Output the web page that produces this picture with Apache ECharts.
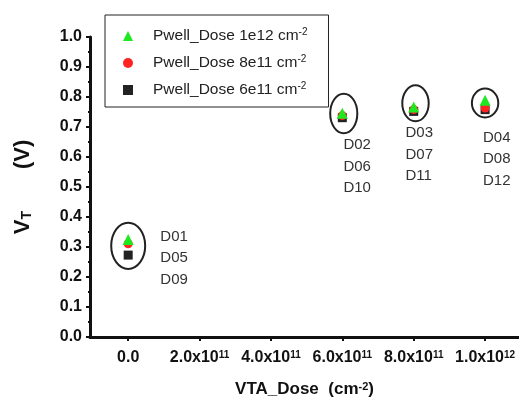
<!DOCTYPE html>
<html>
<head>
<meta charset="utf-8">
<script src="https://cdn.jsdelivr.net/npm/echarts@6/dist/echarts.min.js"></script>
<style>
  html, body { margin: 0; padding: 0; background: #fff; }
  #chart { width: 519px; height: 403px; }
</style>
</head>
<body>
<div id="chart"></div>
<script>
  // VTA dose of each device group (cm^-2)
  const vtaDose = [0, 6e11, 8e11, 1e12];
  const seriesNames = ['Pwell_Dose 1e12 cm', 'Pwell_Dose 8e11 cm', 'Pwell_Dose 6e11 cm'];
  // threshold voltage (V)
  const vtPwell1e12 = [0.325, 0.746, 0.767, 0.789];
  const vtPwell8e11 = [0.311, 0.738, 0.758, 0.763];
  const vtPwell6e11 = [0.273, 0.731, 0.752, 0.758];

  const xTicks = [0, 2e11, 4e11, 6e11, 8e11, 1e12];
  const xMinorTicks = [-1e11, 1e11, 3e11, 5e11, 7e11, 9e11];

  // device names written next to each group, anchored at [dose, V]
  const deviceLabels = ['D01\nD05\nD09', 'D02\nD06\nD10', 'D03\nD07\nD11', 'D04\nD08\nD12'];
  const deviceLabelAt = [[0.9e11, 0.370], [6.03e11, 0.676], [7.77e11, 0.715], [9.94e11, 0.701]];
  // circles drawn round each group: [dose, V, half width (dose), half height (V)]
  const groupRings = [
    [0, 0.304, 0.476e11, 0.077],
    [6.04e11, 0.745, 0.38e11, 0.066],
    [8.05e11, 0.779, 0.37e11, 0.060],
    [1.0e12, 0.780, 0.37e11, 0.048]
  ];

  const font = "'Liberation Sans', Arial, sans-serif";

  function pairs(ys) {
    return vtaDose.map((x, i) => [x, ys[i]]);
  }

  function xLabel(v) {
    if (v === 0) return '0.0';
    const e = Math.floor(Math.log10(v) + 1e-9);
    const m = v / Math.pow(10, e);
    return m.toFixed(1) + 'x10{sup|' + e + '}';
  }

  const chart = echarts.init(document.getElementById('chart'));

  const option = {
    animation: false,
    backgroundColor: '#fff',
    textStyle: { fontFamily: font },
    grid: { left: 90, right: 0, top: 37, bottom: 63 },
    legend: {
      orient: 'vertical',
      left: 105,
      top: 15,
      data: seriesNames,
      itemWidth: 10,
      itemHeight: 10,
      itemGap: 9,
      padding: [12, 21, 8, 18],
      borderColor: '#222',
      borderWidth: 1,
      backgroundColor: '#fff',
      formatter: name => '{n|' + name + '}{sup|-2}',
      textStyle: {
        fontFamily: font,
        fontSize: 15.5,
        color: '#222',
        lineHeight: 18,
        rich: {
          n: { fontFamily: font, fontSize: 15.5, color: '#222', padding: [0, 0, 0, 15] },
          sup: { fontFamily: font, fontSize: 10, lineHeight: 10, verticalAlign: 'top', color: '#222' }
        }
      }
    },
    xAxis: [
      {
        type: 'value',
        min: -1.07e11,
        max: 1.095e12,
        name: '{b|VTA_Dose  (cm}{s|-2}{b|)}',
        nameLocation: 'middle',
        nameGap: 44,
        nameTextStyle: {
          rich: {
            b: { fontFamily: font, fontSize: 17, fontWeight: 'bold', color: '#111' },
            s: { fontFamily: font, fontSize: 11, fontWeight: 'bold', color: '#111', verticalAlign: 'top', lineHeight: 10 }
          }
        },
        splitLine: { show: false },
        axisLine: { onZero: false, lineStyle: { color: '#111', width: 3 } },
        axisTick: { length: 4, lineStyle: { color: '#111', width: 2 }, customValues: xTicks },
        axisLabel: {
          customValues: xTicks,
          margin: 13,
          formatter: xLabel,
          fontFamily: font,
          fontSize: 16,
          fontWeight: 'bold',
          color: '#111',
          rich: {
            sup: { fontFamily: font, fontSize: 10, fontWeight: 'bold', color: '#111', verticalAlign: 'top', lineHeight: 10 }
          }
        }
      },
      {
        type: 'value',
        min: -1.07e11,
        max: 1.095e12,
        position: 'bottom',
        splitLine: { show: false },
        axisLine: { show: false, onZero: false },
        axisTick: { length: 2, lineStyle: { color: '#111', width: 2 }, customValues: xMinorTicks },
        axisLabel: { show: false }
      }
    ],
    yAxis: {
      type: 'value',
      min: 0,
      max: 1.0,
      interval: 0.1,
      name: '{v|V}{t|T}{g|}{v|(V)}',
      nameLocation: 'middle',
      nameGap: 56,
      nameTextStyle: {
        rich: {
          v: { fontFamily: font, fontSize: 22, fontWeight: 'bold', color: '#111' },
          t: { fontFamily: font, fontSize: 14, fontWeight: 'bold', color: '#111', verticalAlign: 'bottom' },
          g: { width: 42 }
        }
      },
      splitLine: { show: false },
      axisLine: { onZero: false, lineStyle: { color: '#111', width: 3 } },
      axisTick: { length: 4, lineStyle: { color: '#111', width: 2 } },
      minorTick: { show: true, splitNumber: 2, length: 2, lineStyle: { color: '#111', width: 2 } },
      axisLabel: {
        margin: 8,
        fontFamily: font,
        fontSize: 16,
        fontWeight: 'bold',
        color: '#111',
        formatter: v => v.toFixed(1)
      }
    },
    series: [
      {
        name: seriesNames[2],
        type: 'scatter',
        symbol: 'rect',
        symbolSize: 9,
        itemStyle: { color: '#222', opacity: 1 },
        data: pairs(vtPwell6e11)
      },
      {
        name: seriesNames[1],
        type: 'scatter',
        symbol: 'circle',
        symbolSize: 9,
        itemStyle: { color: '#ff2424', opacity: 1 },
        data: pairs(vtPwell8e11)
      },
      {
        name: seriesNames[0],
        type: 'scatter',
        symbol: 'triangle',
        symbolSize: 11,
        itemStyle: { color: '#1ee81e', opacity: 1 },
        data: pairs(vtPwell1e12)
      },
      {
        type: 'custom',
        silent: true,
        clip: false,
        data: groupRings,
        renderItem: (params, api) => {
          const c = api.coord([api.value(0), api.value(1)]);
          const s = api.size([api.value(2), api.value(3)]);
          return {
            type: 'ellipse',
            shape: { cx: c[0], cy: c[1], rx: s[0], ry: s[1] },
            style: { fill: 'none', stroke: '#222', lineWidth: 2 }
          };
        }
      },
      {
        type: 'custom',
        silent: true,
        clip: false,
        data: deviceLabelAt,
        renderItem: (params, api) => {
          const p = api.coord([api.value(0), api.value(1)]);
          return {
            type: 'text',
            x: p[0],
            y: p[1],
            style: {
              text: deviceLabels[params.dataIndex],
              fontFamily: font,
              fontSize: 15,
              lineHeight: 21.5,
              fill: '#333',
              align: 'left',
              verticalAlign: 'top'
            }
          };
        }
      }
    ]
  };

  chart.setOption(option);
</script>
</body>
</html>
